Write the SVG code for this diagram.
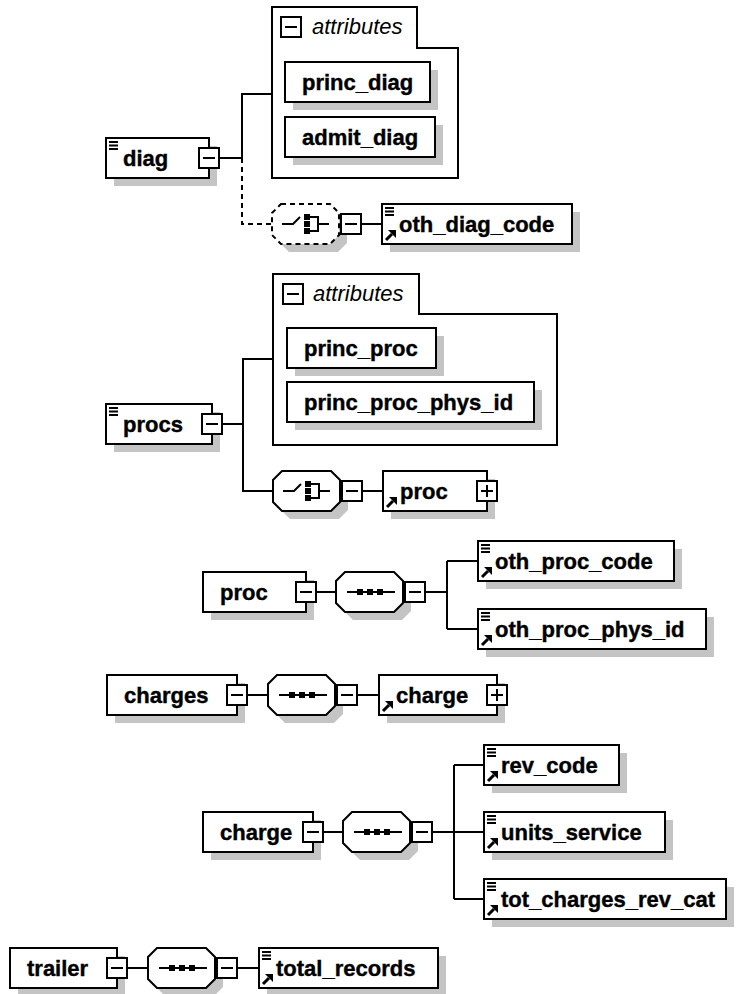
<svg xmlns="http://www.w3.org/2000/svg" width="745" height="994" viewBox="0 0 745 994">
<style>
.b{fill:#fff;stroke:#000;stroke-width:2}
.sh{fill:#c4c4c4;stroke:none}
.c{fill:none;stroke:#000;stroke-width:2}
.d{stroke-dasharray:5 4}
.t{font-family:"Liberation Sans",Arial,Helvetica,sans-serif;font-weight:bold;font-size:22px;fill:#000;stroke:#000;stroke-width:0.4}
.a{font-family:"Liberation Sans",Arial,Helvetica,sans-serif;font-style:italic;font-size:22px;fill:#000}
</style>
<defs>
  <g id="minus"><rect class="b" x="0" y="0" width="20" height="20"/><path class="c" d="M4,10H16"/></g>
  <g id="plus"><rect class="b" x="0" y="0" width="20" height="20"/><path class="c" d="M4,10H16M10,4V16"/></g>
  <path id="doc" d="M3,4H12M3,7.5H12M3,11H12" fill="none" stroke="#000" stroke-width="1.8"/>
  <g id="ref"><path d="M4,-4L10,-10" stroke="#000" stroke-width="3"/><polygon points="6,-14 14,-14 14,-6" fill="#000"/></g>
  <polygon id="octp" points="9,-20 58,-20 67,-11 67,11 58,20 9,20 0,11 0,-11"/>
  <g id="seqsym"><path class="c" d="M11,0H59"/><rect x="21" y="-3" width="6" height="6"/><rect x="31" y="-3" width="6" height="6"/><rect x="41" y="-3" width="6" height="6"/></g>
  <g id="chosym"><path class="c" d="M10,0H21L28,-7"/><rect x="32" y="-10" width="6" height="6"/><rect x="32" y="-3" width="6" height="6"/><rect x="32" y="4" width="6" height="6"/><path class="c" d="M38,-7H46V7H38M46,0H57"/></g>
  <g id="seq"><use href="#octp" x="8" y="8" class="sh"/><use href="#octp" class="b"/><use href="#seqsym"/></g>
  <g id="cho"><use href="#octp" x="8" y="8" class="sh"/><use href="#octp" class="b"/><use href="#chosym"/></g>
  <g id="chod"><use href="#octp" x="8" y="8" class="sh"/><use href="#octp" class="b d"/><use href="#chosym"/></g>
</defs>
<rect x="0" y="0" width="745" height="994" fill="#fff"/>

<g id="connectors">
  <path class="c" d="M219,158H242V94H272"/>
  <path class="c d" d="M242,158V224H272"/>
  <path class="c" d="M361,224H382"/>
  <path class="c" d="M222,424H243V359H273M243,424V491H273"/>
  <path class="c" d="M362,491H383"/>
  <path class="c" d="M316,592H336M425,592H447M447,561V629M447,561H478M447,629H478"/>
  <path class="c" d="M247,695H268M357,695H379"/>
  <path class="c" d="M323,832H343M432,832H454M454,765V899M454,765H484M454,832H484M454,899H484"/>
  <path class="c" d="M127,968H148M237,968H259"/>
</g>

<!-- diag -->
<g id="diag">
  <rect class="sh" x="114" y="146" width="103" height="40"/>
  <rect class="b" x="106" y="138" width="103" height="40"/>
  <use href="#doc" x="106" y="138"/>
  <text class="t" x="123" y="166">diag</text>
  <use href="#minus" x="199" y="148"/>
</g>
<g id="diag-attributes">
  <polygon class="b" points="272,7 417,7 417,48 458,48 458,178 272,178"/>
  <use href="#minus" x="281" y="17"/>
  <text class="a" x="312" y="34">attributes</text>
</g>
<g id="princ_diag">
  <rect class="sh" x="293" y="70" width="145" height="40"/>
  <rect class="b" x="285" y="62" width="145" height="40"/>
  <text class="t" x="302" y="90">princ_diag</text>
</g>
<g id="admit_diag">
  <rect class="sh" x="293" y="125" width="150" height="40"/>
  <rect class="b" x="285" y="117" width="150" height="40"/>
  <text class="t" x="302" y="145">admit_diag</text>
</g>
<g id="diag-choice">
  <use href="#chod" x="272" y="224"/>
  <use href="#minus" x="341" y="214"/>
</g>
<g id="oth_diag_code">
  <rect class="sh" x="390" y="212" width="190" height="40"/>
  <rect class="b" x="382" y="204" width="190" height="40"/>
  <use href="#doc" x="382" y="204"/>
  <use href="#ref" x="382" y="244"/>
  <text class="t" x="399" y="232">oth_diag_code</text>
</g>

<!-- procs -->
<g id="procs">
  <rect class="sh" x="114" y="412" width="106" height="40"/>
  <rect class="b" x="106" y="404" width="106" height="40"/>
  <use href="#doc" x="106" y="404"/>
  <text class="t" x="123" y="432">procs</text>
  <use href="#minus" x="202" y="414"/>
</g>
<g id="procs-attributes">
  <polygon class="b" points="273,274 419,274 419,314 557,314 557,445 273,445"/>
  <use href="#minus" x="283" y="284"/>
  <text class="a" x="313" y="301">attributes</text>
</g>
<g id="princ_proc">
  <rect class="sh" x="295" y="336" width="149" height="40"/>
  <rect class="b" x="287" y="328" width="149" height="40"/>
  <text class="t" x="304" y="356">princ_proc</text>
</g>
<g id="princ_proc_phys_id">
  <rect class="sh" x="295" y="390" width="247" height="40"/>
  <rect class="b" x="287" y="382" width="247" height="40"/>
  <text class="t" x="304" y="410">princ_proc_phys_id</text>
</g>
<g id="procs-choice">
  <use href="#cho" x="273" y="491"/>
  <use href="#minus" x="342" y="481"/>
</g>
<g id="proc-ref">
  <rect class="sh" x="391" y="479" width="104" height="40"/>
  <rect class="b" x="383" y="471" width="104" height="40"/>
  <use href="#ref" x="383" y="511"/>
  <text class="t" x="400" y="499">proc</text>
  <use href="#plus" x="477" y="481"/>
</g>

<!-- proc -->
<g id="proc">
  <rect class="sh" x="211" y="580" width="103" height="40"/>
  <rect class="b" x="203" y="572" width="103" height="40"/>
  <text class="t" x="220" y="600">proc</text>
  <use href="#minus" x="296" y="582"/>
</g>
<g id="proc-sequence">
  <use href="#seq" x="336" y="592"/>
  <use href="#minus" x="405" y="582"/>
</g>
<g id="oth_proc_code">
  <rect class="sh" x="486" y="549" width="196" height="40"/>
  <rect class="b" x="478" y="541" width="196" height="40"/>
  <use href="#doc" x="478" y="541"/>
  <use href="#ref" x="478" y="581"/>
  <text class="t" x="495" y="569">oth_proc_code</text>
</g>
<g id="oth_proc_phys_id">
  <rect class="sh" x="486" y="617" width="228" height="40"/>
  <rect class="b" x="478" y="609" width="228" height="40"/>
  <use href="#doc" x="478" y="609"/>
  <use href="#ref" x="478" y="649"/>
  <text class="t" x="495" y="637">oth_proc_phys_id</text>
</g>

<!-- charges -->
<g id="charges">
  <rect class="sh" x="115" y="683" width="130" height="40"/>
  <rect class="b" x="107" y="675" width="130" height="40"/>
  <text class="t" x="124" y="703">charges</text>
  <use href="#minus" x="227" y="685"/>
</g>
<g id="charges-sequence">
  <use href="#seq" x="268" y="695"/>
  <use href="#minus" x="337" y="685"/>
</g>
<g id="charge-ref">
  <rect class="sh" x="387" y="683" width="118" height="40"/>
  <rect class="b" x="379" y="675" width="118" height="40"/>
  <use href="#ref" x="379" y="715"/>
  <text class="t" x="396" y="703">charge</text>
  <use href="#plus" x="487" y="685"/>
</g>

<!-- charge -->
<g id="charge">
  <rect class="sh" x="211" y="820" width="110" height="40"/>
  <rect class="b" x="203" y="812" width="110" height="40"/>
  <text class="t" x="220" y="840">charge</text>
  <use href="#minus" x="303" y="822"/>
</g>
<g id="charge-sequence">
  <use href="#seq" x="343" y="832"/>
  <use href="#minus" x="412" y="822"/>
</g>
<g id="rev_code">
  <rect class="sh" x="492" y="753" width="135" height="40"/>
  <rect class="b" x="484" y="745" width="135" height="40"/>
  <use href="#doc" x="484" y="745"/>
  <use href="#ref" x="484" y="785"/>
  <text class="t" x="501" y="773">rev_code</text>
</g>
<g id="units_service">
  <rect class="sh" x="492" y="820" width="181" height="40"/>
  <rect class="b" x="484" y="812" width="181" height="40"/>
  <use href="#doc" x="484" y="812"/>
  <use href="#ref" x="484" y="852"/>
  <text class="t" x="501" y="840">units_service</text>
</g>
<g id="tot_charges_rev_cat">
  <rect class="sh" x="492" y="887" width="242" height="40"/>
  <rect class="b" x="484" y="879" width="242" height="40"/>
  <use href="#doc" x="484" y="879"/>
  <use href="#ref" x="484" y="919"/>
  <text class="t" x="501" y="907">tot_charges_rev_cat</text>
</g>

<!-- trailer -->
<g id="trailer">
  <rect class="sh" x="18" y="956" width="107" height="40"/>
  <rect class="b" x="10" y="948" width="107" height="40"/>
  <text class="t" x="27" y="976">trailer</text>
  <use href="#minus" x="107" y="958"/>
</g>
<g id="trailer-sequence">
  <use href="#seq" x="148" y="968"/>
  <use href="#minus" x="217" y="958"/>
</g>
<g id="total_records">
  <rect class="sh" x="267" y="956" width="179" height="40"/>
  <rect class="b" x="259" y="948" width="179" height="40"/>
  <use href="#doc" x="259" y="948"/>
  <use href="#ref" x="259" y="988"/>
  <text class="t" x="276" y="976">total_records</text>
</g>
</svg>
